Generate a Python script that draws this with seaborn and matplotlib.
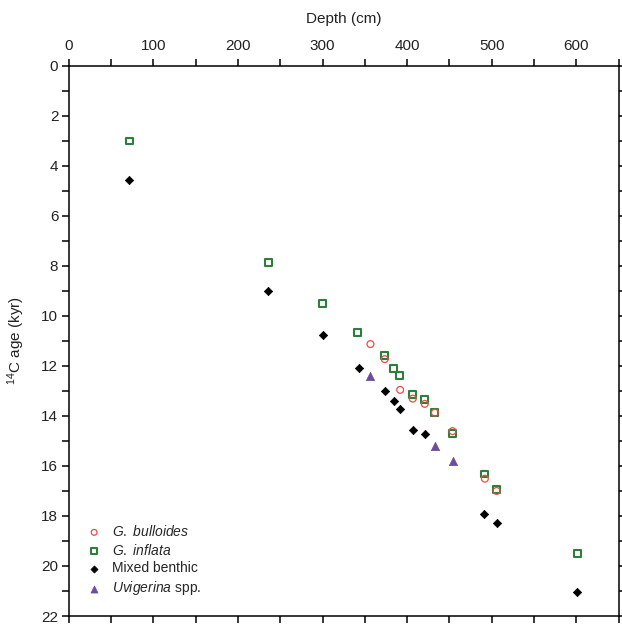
import matplotlib
matplotlib.use("Agg")
import matplotlib.pyplot as plt
import pandas as pd
import seaborn as sns
from matplotlib.ticker import MultipleLocator

sns.set_style("ticks")
plt.rcParams['font.family'] = ['Liberation Sans', 'DejaVu Sans']
plt.rcParams['mathtext.fontset'] = 'custom'
plt.rcParams['mathtext.rm'] = 'Liberation Sans'
plt.rcParams['mathtext.it'] = 'Liberation Sans:italic'
plt.rcParams['mathtext.default'] = 'regular'

# Depth (cm) and 14C age (kyr) per species group
bulloides_depth = [356.6, 373.5, 391.7, 406.6, 420.8, 432.7, 453.6, 491.8, 505.7]
bulloides_age = [11.13, 11.73, 12.96, 13.31, 13.52, 13.87, 14.61, 16.51, 17.0]

inflata_depth = [71.7, 235.9, 300.2, 341.5, 373.5, 384.2, 391.0, 406.6, 420.8,
                 432.7, 453.6, 491.8, 505.7, 601.0]
inflata_age = [3.01, 7.87, 9.51, 10.66, 11.58, 12.1, 12.39, 13.13, 13.33,
               13.85, 14.69, 16.32, 16.95, 19.51]

benthic_depth = [71.7, 235.9, 300.2, 343.2, 373.5, 384.2, 391.7, 406.6, 420.8,
                 491.1, 505.7, 601.0]
benthic_age = [4.55, 9.0, 10.78, 12.07, 13.01, 13.41, 13.71, 14.55, 14.71,
               17.94, 18.29, 21.03]

uvigerina_depth = [356.6, 433.1, 453.6]
uvigerina_age = [12.39, 15.22, 15.82]

bull = pd.DataFrame({'depth': bulloides_depth, 'age': bulloides_age})
infl = pd.DataFrame({'depth': inflata_depth, 'age': inflata_age})
bent = pd.DataFrame({'depth': benthic_depth, 'age': benthic_age})
uvig = pd.DataFrame({'depth': uvigerina_depth, 'age': uvigerina_age})

fig = plt.figure(figsize=(6.22, 6.25), dpi=100)
ax = fig.add_axes([68.7 / 622, 1 - 616 / 625, 550 / 622, 550.3 / 625])

sns.scatterplot(data=bull, x='depth', y='age', ax=ax, marker='o', s=24,
                facecolor='none', edgecolor='#ee4a44', linewidth=0.9,
                label='$\\it{G.\\ bulloides}$', zorder=4)
sns.scatterplot(data=infl, x='depth', y='age', ax=ax, marker='s', s=24,
                facecolor='none', edgecolor='#2e7d3a', linewidth=1.5,
                label='$\\it{G.\\ inflata}$', zorder=3)
sns.scatterplot(data=bent, x='depth', y='age', ax=ax, marker='D', s=18,
                color='black', edgecolor='black', linewidth=0.5,
                label='Mixed benthic', zorder=3)
sns.scatterplot(data=uvig, x='depth', y='age', ax=ax, marker='^', s=36,
                color='#6b4c9e', edgecolor='#6b4c9e', linewidth=0.5,
                label='$\\it{Uvigerina}$ spp.', zorder=3)

ax.set_xlim(0, 650)
ax.set_ylim(22, 0)
ax.xaxis.set_major_locator(MultipleLocator(100))
ax.xaxis.set_minor_locator(MultipleLocator(50))
ax.yaxis.set_major_locator(MultipleLocator(2))
ax.yaxis.set_minor_locator(MultipleLocator(1))

for side in ['left', 'right', 'top', 'bottom']:
    ax.spines[side].set_visible(True)
    ax.spines[side].set_linewidth(1.1)
    ax.spines[side].set_color('black')

ax.tick_params(which='both', direction='out', length=5, width=1.1,
               top=True, bottom=True, left=True, right=True,
               labeltop=True, labelbottom=False, labelleft=True, labelright=False,
               labelsize=11, colors='black', labelcolor='#222222')
ax.tick_params(axis='x', which='both', pad=4)
ax.tick_params(axis='y', which='both', pad=2.5)

ax.xaxis.set_label_position('top')
ax.set_xlabel('Depth (cm)', fontsize=11, color='#222222', labelpad=12)
ax.set_ylabel('$^{14}$C age (kyr)', fontsize=11, color='#222222', labelpad=10)

ax.legend(loc='lower left', bbox_to_anchor=(0.021, 0.024), frameon=False,
          fontsize=10, handletextpad=0.65, labelspacing=0.27, borderaxespad=0,
          handlelength=1.2, markerscale=0.85)

fig.savefig('out.png', dpi=100)
